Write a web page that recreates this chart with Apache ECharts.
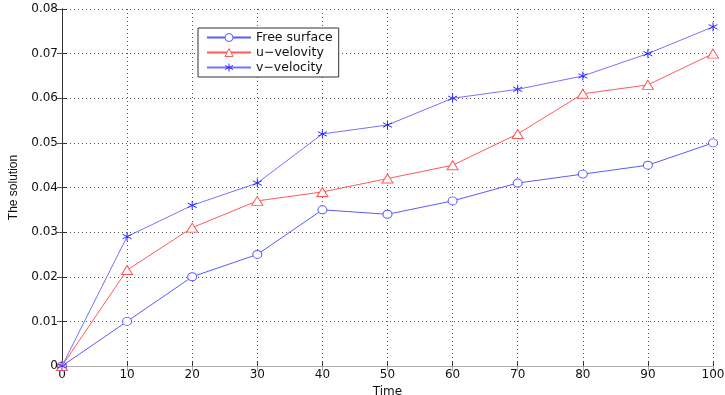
<!DOCTYPE html>
<html><head><meta charset="utf-8">
<script src="https://cdn.jsdelivr.net/npm/echarts@6/dist/echarts.min.js"></script>
<style>html,body{margin:0;padding:0;background:#fff}#c{width:725px;height:395px}</style>
</head><body><div id="c"></div>
<script>
const times = [0,10,20,30,40,50,60,70,80,90,100];
const freeSurface = [0,0.010,0.020,0.025,0.035,0.034,0.037,0.041,0.043,0.045,0.050];
const uVelocity = [0,0.0215,0.031,0.037,0.039,0.042,0.045,0.052,0.061,0.063,0.070];
const vVelocity = [0,0.029,0.036,0.041,0.052,0.054,0.060,0.062,0.065,0.070,0.076];
const seriesNames = ['Free surface','u\u2212velovity','v\u2212velocity'];

const pair = arr => times.map((t,i)=>[t,arr[i]]);
const font = 'DejaVu Sans, Verdana, sans-serif';
const star = 'path://M0,-5L0,5M-4.3,-2.5L4.3,2.5M-4.3,2.5L4.3,-2.5';
const chart = echarts.init(document.getElementById('c'));
const gridLine = {show:true,lineStyle:{color:'#555',type:[1,3],width:1}};
chart.setOption({
  animation:false,
  grid:{left:62,right:12,top:9,bottom:29,outerBoundsMode:'none',containLabel:false},
  legend:{
    orient:'vertical',left:198,top:28,
    data:seriesNames,
    backgroundColor:'#fff',borderColor:'#333',borderWidth:1,
    padding:[3,6,3,8],itemGap:2,itemWidth:44,itemHeight:10,
    itemStyle:{borderWidth:1},
    textStyle:{fontFamily:font,fontSize:12.5,color:'#111'}
  },
  xAxis:[{
    type:'value',min:0,max:100,interval:10,
    name:'Time',nameLocation:'middle',nameGap:20,
    nameTextStyle:{fontFamily:font,fontSize:12,color:'#111'},
    axisLine:{lineStyle:{color:'#333',width:1}},
    axisTick:{inside:true,length:5,lineStyle:{color:'#333'}},
    axisLabel:{fontFamily:font,fontSize:12,color:'#111',margin:3},
    splitLine:gridLine
  },{
    type:'value',min:0,max:100,interval:10,position:'top',
    axisLine:{lineStyle:{color:'#aaa',width:1}},
    axisTick:{inside:true,length:5,lineStyle:{color:'#aaa'}},
    axisLabel:{show:false},splitLine:{show:false}
  }],
  yAxis:[{
    type:'value',min:0,max:0.08,interval:0.01,
    name:'The solution',nameLocation:'middle',nameGap:42,
    nameTextStyle:{fontFamily:'Liberation Sans Narrow, Liberation Sans, Arial',fontSize:12,color:'#111'},
    axisLine:{show:true,lineStyle:{color:'#333',width:1}},
    axisTick:{inside:true,length:5,lineStyle:{color:'#333'}},
    axisLabel:{fontFamily:font,fontSize:12,color:'#111',margin:4,
      formatter:v=>v===0?'0':v.toFixed(2)},
    splitLine:gridLine
  },{
    type:'value',min:0,max:0.08,interval:0.01,position:'right',
    axisLine:{show:true,lineStyle:{color:'#333',width:1}},
    axisTick:{inside:true,length:5,lineStyle:{color:'#555'}},
    axisLabel:{show:false},splitLine:{show:false}
  }],
  series:[
    {name:seriesNames[0],type:'line',data:pair(freeSurface),
     symbol:'circle',symbolSize:[9,8],showAllSymbol:true,
     lineStyle:{color:'#5a5aff',width:1},
     itemStyle:{color:'#fff',borderColor:'#5a5aff',borderWidth:1}},
    {name:seriesNames[1],type:'line',data:pair(uVelocity),
     symbol:'triangle',symbolSize:[11,9],showAllSymbol:true,
     lineStyle:{color:'#ff5a5a',width:1},
     itemStyle:{color:'#fff',borderColor:'#ff5a5a',borderWidth:1}},
    {name:seriesNames[2],type:'line',data:pair(vVelocity),
     symbol:star,symbolSize:9,showAllSymbol:true,
     lineStyle:{color:'#7373ff',width:1},
     itemStyle:{color:'rgba(0,0,0,0)',borderColor:'#2b2bff',borderWidth:1}}
  ]
});
</script></body></html>
